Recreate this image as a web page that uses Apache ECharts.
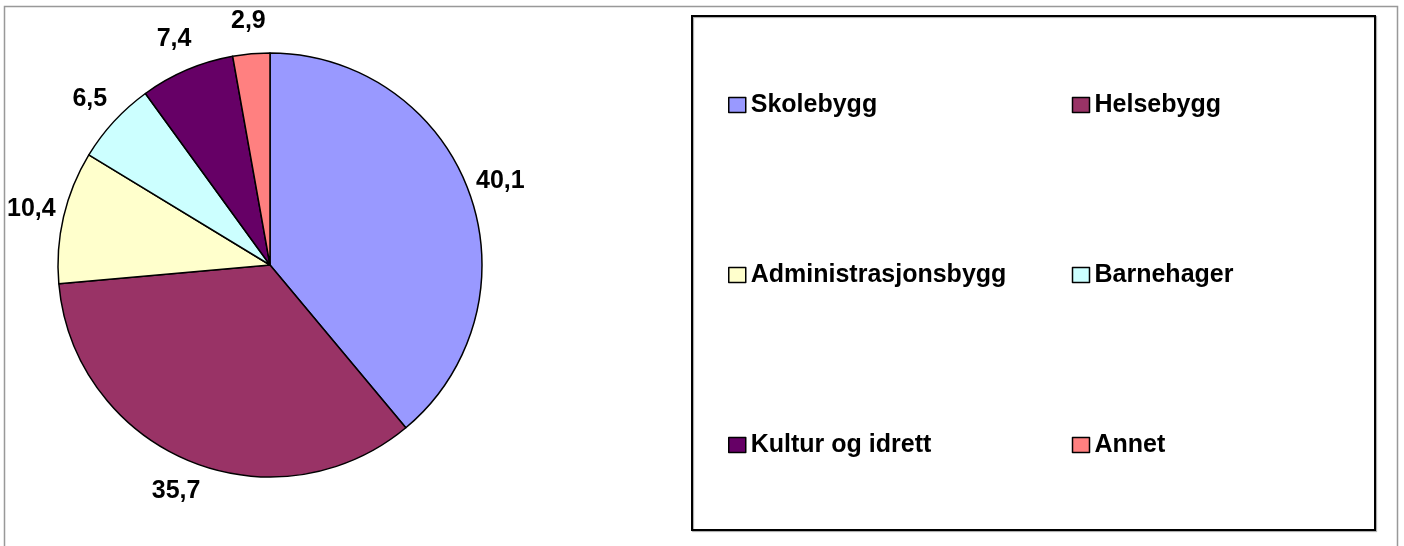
<!DOCTYPE html>
<html>
<head>
<meta charset="utf-8">
<script src="https://cdn.jsdelivr.net/npm/echarts@6/dist/echarts.min.js"></script>
<style>
html, body { margin: 0; padding: 0; background: #fff; }
#main { width: 1404px; height: 546px; }
</style>
</head>
<body>
<div id="main"></div>
<script>
// kategorier og verdier (prosent)
var categories = ['Skolebygg', 'Helsebygg', 'Administrasjonsbygg', 'Barnehager', 'Kultur og idrett', 'Annet'];
var values = [40.1, 35.7, 10.4, 6.5, 7.4, 2.9];
var colors = ['#9999FF', '#993366', '#FFFFCC', '#CCFFFF', '#660066', '#FF8080'];

var myChart;
var pieCenter = [270, 265];
var pieRadius = 212;
var labelRadius = 245;

window.onload = function () {
    myChart = echarts.init(document.getElementById('main'));
    draw();
}

// midtvinkel for hver sektor, med klokka fra toppen
function midAngles() {
    var total = 0;
    for (var i = 0; i < values.length; i++) total += values[i];
    var acc = 0, out = [];
    for (var j = 0; j < values.length; j++) {
        out.push((acc + values[j] / 2) / total * Math.PI * 2);
        acc += values[j];
    }
    return out;
}

function draw() {
    var pieData = [];
    for (var i = 0; i < categories.length; i++) {
        pieData.push({ name: categories[i], value: values[i] });
    }
    var fam = 'Liberation Sans, Arial, sans-serif';
    var angles = midAngles();

    // tre rader i forklaringen, to elementer per rad
    var rowTops = [85, 255, 425];
    var legends = [];
    for (var r = 0; r < 3; r++) {
        legends.push({
            data: [categories[r * 2], categories[r * 2 + 1]],
            orient: 'horizontal',
            left: 723,
            top: rowTops[r],
            icon: 'rect',
            itemWidth: 17,
            itemHeight: 15,
            itemGap: 21,
            selectedMode: false,
            itemStyle: { borderColor: '#000', borderWidth: 1.5 },
            textStyle: {
                fontFamily: fam, fontWeight: 'bold', fontSize: 25, color: '#000',
                width: 300, lineHeight: 30
            }
        });
    }

    var option = {
        animation: false,
        color: colors,
        graphic: [
            { type: 'rect', shape: { x: 4.5, y: 6.5, width: 1393, height: 600 },
              style: { fill: 'none', stroke: '#999', lineWidth: 1.5 }, silent: true },
            { type: 'rect', shape: { x: 692, y: 16, width: 683, height: 514 },
              style: { fill: 'none', stroke: '#000', lineWidth: 2, shadowColor: 'rgba(0,0,0,0.35)', shadowOffsetX: 1, shadowOffsetY: 1, shadowBlur: 1 }, silent: true }
        ],
        legend: legends,
        series: [{
            type: 'pie',
            center: pieCenter,
            radius: pieRadius,
            startAngle: 90,
            clockwise: true,
            data: pieData,
            itemStyle: { borderColor: '#000', borderWidth: 1.5 },
            emphasis: { disabled: true },
            label: {
                show: true,
                position: 'outside',
                overflow: 'none',
                formatter: function (p) { return String(p.value).replace('.', ','); },
                fontFamily: fam,
                fontWeight: 'bold',
                fontSize: 25,
                color: '#000'
            },
            labelLine: { show: false },
            labelLayout: function (p) {
                var a = angles[p.dataIndex];
                return {
                    x: pieCenter[0] + labelRadius * Math.sin(a),
                    y: pieCenter[1] - labelRadius * Math.cos(a),
                    align: 'center',
                    verticalAlign: 'middle'
                };
            }
        }]
    };
    myChart.setOption(option);
}
</script>
</body>
</html>
